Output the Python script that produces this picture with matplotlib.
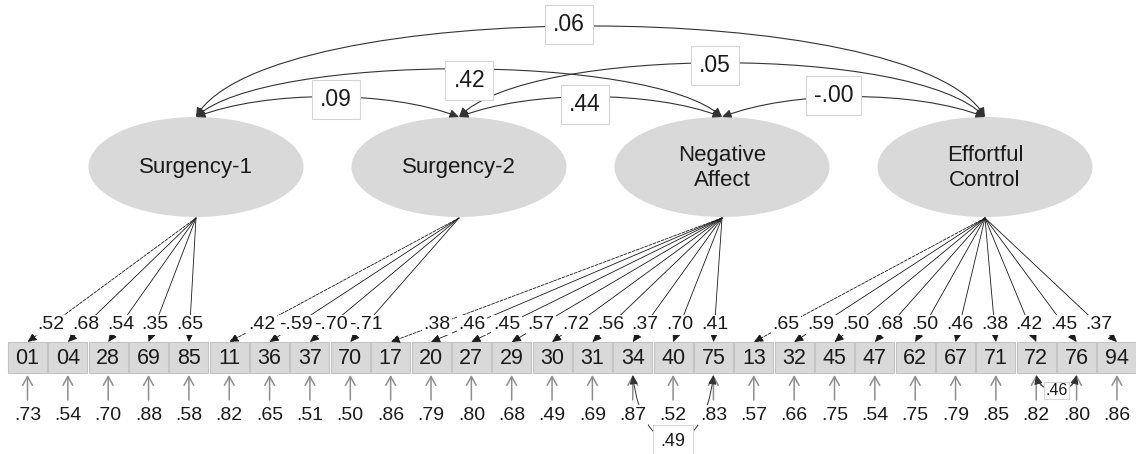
import matplotlib
matplotlib.use("Agg")
import matplotlib.pyplot as plt
from matplotlib.patches import Ellipse, Rectangle, FancyArrowPatch
from matplotlib.path import Path

plt.rcParams["font.family"] = ["Liberation Sans", "DejaVu Sans"]

# === Data ===
FACTORS = ["Surgency-1", "Surgency-2", "Negative\nAffect", "Effortful\nControl"]
ITEMS = [
    ["01", "04", "28", "69", "85"],
    ["11", "36", "37", "70"],
    ["17", "20", "27", "29", "30", "31", "34", "40", "75"],
    ["13", "32", "45", "47", "62", "67", "71", "72", "76", "94"],
]
LOADINGS = [
    [0.52, 0.68, 0.54, 0.35, 0.65],
    [0.42, -0.59, -0.70, -0.71],
    [0.38, 0.46, 0.45, 0.57, 0.72, 0.56, 0.37, 0.70, 0.41],
    [0.65, 0.59, 0.50, 0.68, 0.50, 0.46, 0.38, 0.42, 0.45, 0.37],
]
RESIDUALS = [
    [0.73, 0.54, 0.70, 0.88, 0.58],
    [0.82, 0.65, 0.51, 0.50],
    [0.86, 0.79, 0.80, 0.68, 0.49, 0.69, 0.87, 0.52, 0.83],
    [0.57, 0.66, 0.75, 0.54, 0.75, 0.79, 0.85, 0.82, 0.80, 0.86],
]
# factor correlations (factor a, factor b, r)
FACTOR_COV = [(0, 1, 0.09), (0, 2, 0.42), (0, 3, 0.06),
              (1, 2, 0.44), (1, 3, 0.05), (2, 3, -0.0)]
# correlated residuals (item a, item b, r)
RESID_COV = [("34", "75", 0.49), ("72", "76", 0.46)]

# === Layout (pixels, y down) ===
W, H = 1136, 454
BOX_X0, BOX_STEP = 27.5, 40.35
BOX_W, BOX_H, BOX_TOP = 39, 31, 342
FAC_X0, FAC_STEP, FAC_Y = 196, 263, 167
ELL_W, ELL_H = 215, 100
FAC_TOP, FAC_BOT = FAC_Y - ELL_H / 2, FAC_Y + ELL_H / 2 + 1
RES_TAIL, RES_TIP, RES_LABEL_Y = 400, 375, 415
LOAD_T = 0.86
ARC_REACH = 70
# rise of each factor arc, label position along arc, label y nudge
ARC_RISE = {(0, 1): 27, (0, 2): 64, (0, 3): 121, (1, 2): 27, (1, 3): 72, (2, 3): 27}
ARC_LABEL = {(0, 1): (0.53, 3), (0, 2): (0.515, 11), (0, 3): (0.48, -2),
             (1, 2): (0.48, 8), (1, 3): (0.49, 2), (2, 3): (0.43, -2)}
# depth, reach, fontsize, pad for residual arcs
RES_ARC = {("34", "75"): (88, 10, 13, 0.4), ("72", "76"): (21, 5, 11.5, 0.06)}

INK = "#1a1a1a"
GREY_FILL = "#d9d9d9"


def fmt(v):
    return f"{v:.2f}".replace("0.", ".", 1)


def bez(pts, t):
    (x0, y0), (x1, y1), (x2, y2), (x3, y3) = pts
    a, b, c, d = (1 - t) ** 3, 3 * t * (1 - t) ** 2, 3 * t ** 2 * (1 - t), t ** 3
    return a * x0 + b * x1 + c * x2 + d * x3, a * y0 + b * y1 + c * y2 + d * y3


def arc_pts(xa, xb, y0, depth, reach):
    return [(xa, y0), (xa + reach, y0 + depth), (xb - reach, y0 + depth), (xb, y0)]


def main():
    fig = plt.figure(figsize=(W / 100, H / 100), dpi=100)
    ax = fig.add_axes([0, 0, 1, 1])
    ax.set_xlim(0, W)
    ax.set_ylim(H, 0)
    ax.axis("off")

    fac_x = [FAC_X0 + i * FAC_STEP for i in range(len(FACTORS))]

    # factors
    for fx, name in zip(fac_x, FACTORS):
        ax.add_patch(Ellipse((fx, FAC_Y), ELL_W, ELL_H, fc=GREY_FILL, ec="none", zorder=1))
        ax.text(fx, FAC_Y + 1, name, ha="center", va="center", fontsize=16,
                color=INK, linespacing=1.2, zorder=5)

    # indicators
    item_x = {}
    k = 0
    for f, items in enumerate(ITEMS):
        for j, item in enumerate(items):
            bx = BOX_X0 + k * BOX_STEP
            item_x[item] = bx
            k += 1
            ax.add_patch(Rectangle((bx - BOX_W / 2, BOX_TOP), BOX_W, BOX_H,
                                   fc=GREY_FILL, ec="#c4c4c4", lw=0.8, zorder=2))
            ax.text(bx, BOX_TOP + BOX_H / 2 + 1, item, ha="center", va="center",
                    fontsize=15.5, color=INK, zorder=5)

            # loading
            fx = fac_x[f]
            ax.add_patch(FancyArrowPatch(
                (fx, FAC_BOT), (bx, BOX_TOP),
                arrowstyle="-|>,head_length=0.55,head_width=0.25",
                mutation_scale=10, lw=0.6, color=INK, shrinkA=0, shrinkB=0,
                linestyle="--" if j == 0 else "-", zorder=3))
            lx = fx + LOAD_T * (bx - fx)
            ly = FAC_BOT + LOAD_T * (BOX_TOP - FAC_BOT)
            ax.text(lx, ly, fmt(LOADINGS[f][j]), ha="center", va="center",
                    fontsize=14, color=INK, zorder=6,
                    bbox=dict(boxstyle="square,pad=0.08", fc="white", ec="none"))

            # residual
            ax.add_patch(FancyArrowPatch(
                (bx, RES_TAIL), (bx, RES_TIP),
                arrowstyle="->,head_length=0.45,head_width=0.25",
                mutation_scale=14, lw=1.1, color="#8e8e8e",
                shrinkA=0, shrinkB=0, zorder=3))
            ax.text(bx, RES_LABEL_Y, fmt(RESIDUALS[f][j]), ha="center", va="center",
                    fontsize=14, color=INK, zorder=6,
                    bbox=dict(boxstyle="square,pad=0.1", fc="white", ec="none"))

    codes = [Path.MOVETO, Path.CURVE4, Path.CURVE4, Path.CURVE4]

    # factor correlations
    for a, b, r in FACTOR_COV:
        pts = arc_pts(fac_x[a], fac_x[b], FAC_TOP, -ARC_RISE[(a, b)], ARC_REACH)
        ax.add_patch(FancyArrowPatch(
            path=Path(pts, codes),
            arrowstyle="<|-|>,head_length=0.55,head_width=0.25",
            mutation_scale=10, lw=0.8, color="#333333", zorder=3))
        t, dy = ARC_LABEL[(a, b)]
        tx, ty = bez(pts, t)
        ax.text(tx, ty + dy, fmt(r), ha="center", va="center", fontsize=16.5,
                color=INK, zorder=6,
                bbox=dict(boxstyle="square,pad=0.35", fc="white", ec="#d6d6d6", lw=0.8))

    # correlated residuals
    for ia, ib, r in RESID_COV:
        depth, reach, fs, pad = RES_ARC[(ia, ib)]
        pts = arc_pts(item_x[ia], item_x[ib], RES_TIP, depth, reach)
        ax.add_patch(FancyArrowPatch(
            path=Path(pts, codes),
            arrowstyle="<|-|>,head_length=0.55,head_width=0.25",
            mutation_scale=10, lw=0.7, color="#333333", zorder=4))
        tx, ty = bez(pts, 0.5)
        ax.text(tx, ty, fmt(r), ha="center", va="center", fontsize=fs,
                color=INK, zorder=7,
                bbox=dict(boxstyle=f"square,pad={pad}", fc="white", ec="#d6d6d6", lw=0.8))

    fig.savefig("out.png", dpi=100)
    plt.close(fig)


if __name__ == "__main__":
    main()
